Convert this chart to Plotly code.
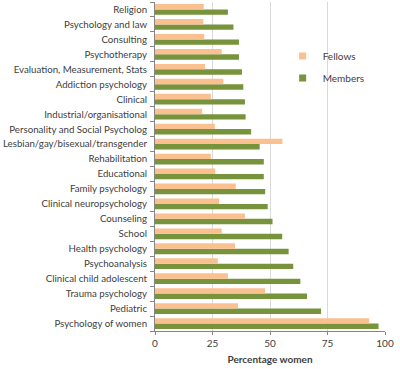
import plotly.graph_objects as go

categories = [
    "Religion", "Psychology and law", "Consulting", "Psychotherapy",
    "Evaluation, Measurement, Stats", "Addiction psychology", "Clinical",
    "Industrial/organisational", "Personality and Social Psycholog",
    "Lesbian/gay/bisexual/transgender", "Rehabilitation", "Educational",
    "Family psychology", "Clinical neuropsychology", "Counseling", "School",
    "Health psychology", "Psychoanalysis", "Clinical child adolescent",
    "Trauma psychology", "Pediatric", "Psychology of women",
]
fellows = [21.2, 21.0, 21.4, 29.0, 21.8, 29.7, 24.3, 20.5, 26.0, 55.4, 24.3,
           26.2, 35.1, 27.9, 39.1, 29.0, 34.8, 27.3, 31.7, 47.9, 36.1, 93.1]
members = [31.7, 34.1, 36.5, 36.5, 37.8, 38.4, 39.1, 39.4, 41.8, 45.5, 47.3,
           47.3, 47.9, 49.0, 51.1, 55.3, 58.1, 60.1, 63.2, 66.1, 72.2, 97.2]
x_ticks = [0, 25, 50, 75, 100]

FELLOW_C = "#FAC090"
MEMBER_C = "#77933C"

# bottom-to-top order for plotly category axis
cats_r = categories[::-1]

fig = go.Figure()
fig.add_trace(go.Bar(
    y=cats_r, x=members[::-1], orientation="h", name="Members",
    marker=dict(color=MEMBER_C, line=dict(width=0)), showlegend=False,
))
fig.add_trace(go.Bar(
    y=cats_r, x=fellows[::-1], orientation="h", name="Fellows",
    marker=dict(color=FELLOW_C, line=dict(width=0)), showlegend=False,
))
# legend entries with small square keys
for nm, col in [("Fellows", FELLOW_C), ("Members", MEMBER_C)]:
    fig.add_trace(go.Scatter(
        x=[None], y=[None], mode="markers", name=nm, legendgroup=nm,
        marker=dict(symbol="square", size=7, color=col),
    ))

font_family = "Lato, Open Sans, sans-serif"
fig.update_layout(
    width=400, height=369,
    margin=dict(l=155, r=15, t=2, b=38, autoexpand=False),
    barmode="group", bargap=0.28, bargroupgap=0.0,
    plot_bgcolor="white", paper_bgcolor="white",
    font=dict(family=font_family, size=10, color="#404040"),
    legend=dict(
        x=0.555, y=0.88, xanchor="left", yanchor="top",
        bgcolor="rgba(0,0,0,0)",
        font=dict(size=10, color="#404040"),
        itemwidth=30, tracegroupgap=3,
    ),
    showlegend=True,
)
fig.update_xaxes(
    range=[0, 100], tickvals=x_ticks, ticktext=[str(v) for v in x_ticks],
    showgrid=True, gridcolor="#D9D9D9", gridwidth=1,
    showline=True, linecolor="#868686", linewidth=1,
    ticks="outside", ticklen=3, tickcolor="#868686",
    zeroline=False, automargin=False,
    title=dict(text="<b>Percentage women</b>", font=dict(size=10, color="#404040"), standoff=7),
    tickfont=dict(size=10),
)
fig.update_yaxes(
    type="category", categoryorder="array", categoryarray=cats_r,
    showline=True, linecolor="#868686", linewidth=1,
    ticks="outside", ticklen=4, tickcolor="#868686", tickson="boundaries",
    showgrid=False, tickfont=dict(size=9.7), automargin=False,
    ticklabelstandoff=5,
)

fig.write_html("out.html", post_script="document.body.style.margin='0';",
               config={"displayModeBar": False})
